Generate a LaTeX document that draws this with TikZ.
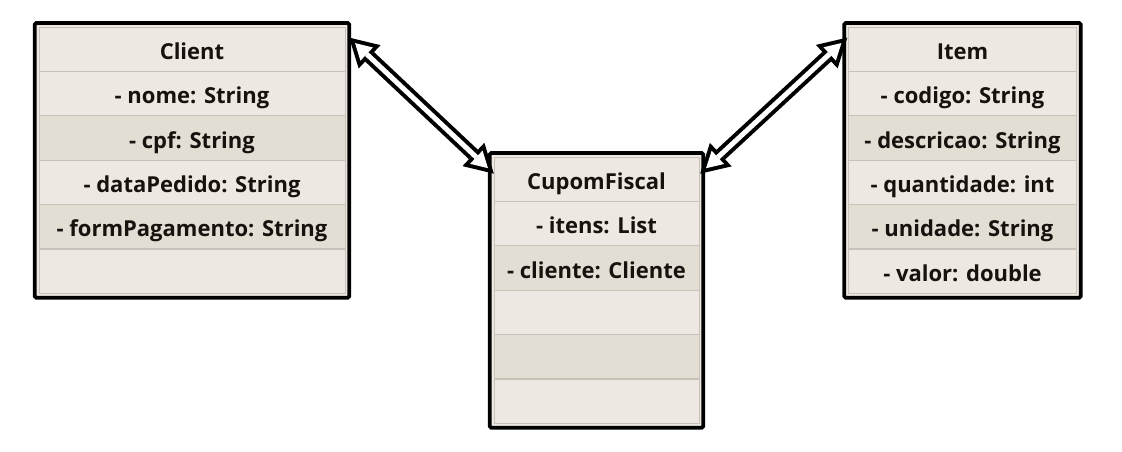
\documentclass[tikz,border=0pt]{standalone}
\usepackage{fontspec}
\setmainfont{Open Sans}
\usetikzlibrary{arrows.meta,calc,fit,backgrounds}
\definecolor{rowlight}{RGB}{237,233,226}
\definecolor{rowdark}{RGB}{227,222,212}
\definecolor{rowline}{RGB}{200,194,184}
\definecolor{txt}{RGB}{22,18,14}
\tikzset{
  row/.style={draw=rowline, line width=1pt, minimum height=44.33pt, inner sep=0pt,
    text height=20pt, text depth=0pt,
    font=\fontsize{22}{26}\selectfont\bfseries, text=txt},
  lightrow/.style={row, fill=rowlight},
  darkrow/.style={row, fill=rowdark},
  classbox/.style={draw=black, line width=3.8pt, fill=rowlight, inner sep=3.8pt, rounded corners=1.5pt},
  assocout/.style={line width=13pt, draw=black, {Triangle[length=28pt,width=32pt,line width'=0pt]}-{Triangle[length=28pt,width=32pt,line width'=0pt]}},
  associn/.style={line width=5pt, draw=white, shorten <=8pt, shorten >=8pt, {Triangle[length=16pt,width=18.2pt,line width'=0pt]}-{Triangle[length=16pt,width=18.2pt,line width'=0pt]}},
}
\begin{document}
\begin{tikzpicture}[x=1pt,y=-1pt]
\useasboundingbox (0,0) rectangle (1122,452);
% Client
\node[lightrow, minimum width=306pt] (c0) at (192,49.5) {Client};
\node[lightrow, minimum width=306pt] (c1) at (192,93.8) {- nome: String};
\node[darkrow, minimum width=306pt] (c2) at (192,138.1) {- cpf: String};
\node[lightrow, minimum width=306pt] (c3) at (192,182.5) {- dataPedido: String};
\node[darkrow, minimum width=306pt] (c4) at (192,226.8) {- formPagamento: String};
\node[lightrow, minimum width=306pt] (c5) at (192,271.2) {};
% CupomFiscal
\node[lightrow, minimum width=205pt] (f0) at (596.5,179.5) {CupomFiscal};
\node[lightrow, minimum width=205pt] (f1) at (596.5,223.8) {- itens: List};
\node[darkrow, minimum width=205pt] (f2) at (596.5,268.1) {- cliente: Cliente};
\node[lightrow, minimum width=205pt] (f3) at (596.5,312.5) {};
\node[darkrow, minimum width=205pt] (f4) at (596.5,356.8) {};
\node[lightrow, minimum width=205pt] (f5) at (596.5,401.2) {};
% Item
\node[lightrow, minimum width=228pt] (i0) at (962.5,49.5) {Item};
\node[lightrow, minimum width=228pt] (i1) at (962.5,93.8) {- codigo: String};
\node[darkrow, minimum width=228pt] (i2) at (962.5,138.1) {- descricao: String};
\node[lightrow, minimum width=228pt] (i3) at (962.5,182.5) {- quantidade: int};
\node[darkrow, minimum width=228pt] (i4) at (962.5,226.8) {- unidade: String};
\node[lightrow, minimum width=228pt] (i5) at (962.5,271.2) {- valor: double};
\begin{scope}[on background layer]
\fill[white] (0,0) rectangle (1122,452);
\node[classbox, fit=(c0)(c5)] (cl) {};
\node[classbox, fit=(f0)(f5)] (cp) {};
\node[classbox, fit=(i0)(i5)] (it) {};
\end{scope}
% associations
\coordinate (a1) at ($(cl.north east)+(-2,16.5)$);
\coordinate (a2) at ($(cp.north west)+(6,22.5)$);
\coordinate (b1) at ($(cp.north east)+(-5,22.5)$);
\coordinate (b2) at ($(it.north west)+(5,16.5)$);
\draw[assocout] (a1) -- (a2);
\draw[associn] (a1) -- (a2);
\draw[assocout] (b1) -- (b2);
\draw[associn] (b1) -- (b2);
\end{tikzpicture}
\end{document}
